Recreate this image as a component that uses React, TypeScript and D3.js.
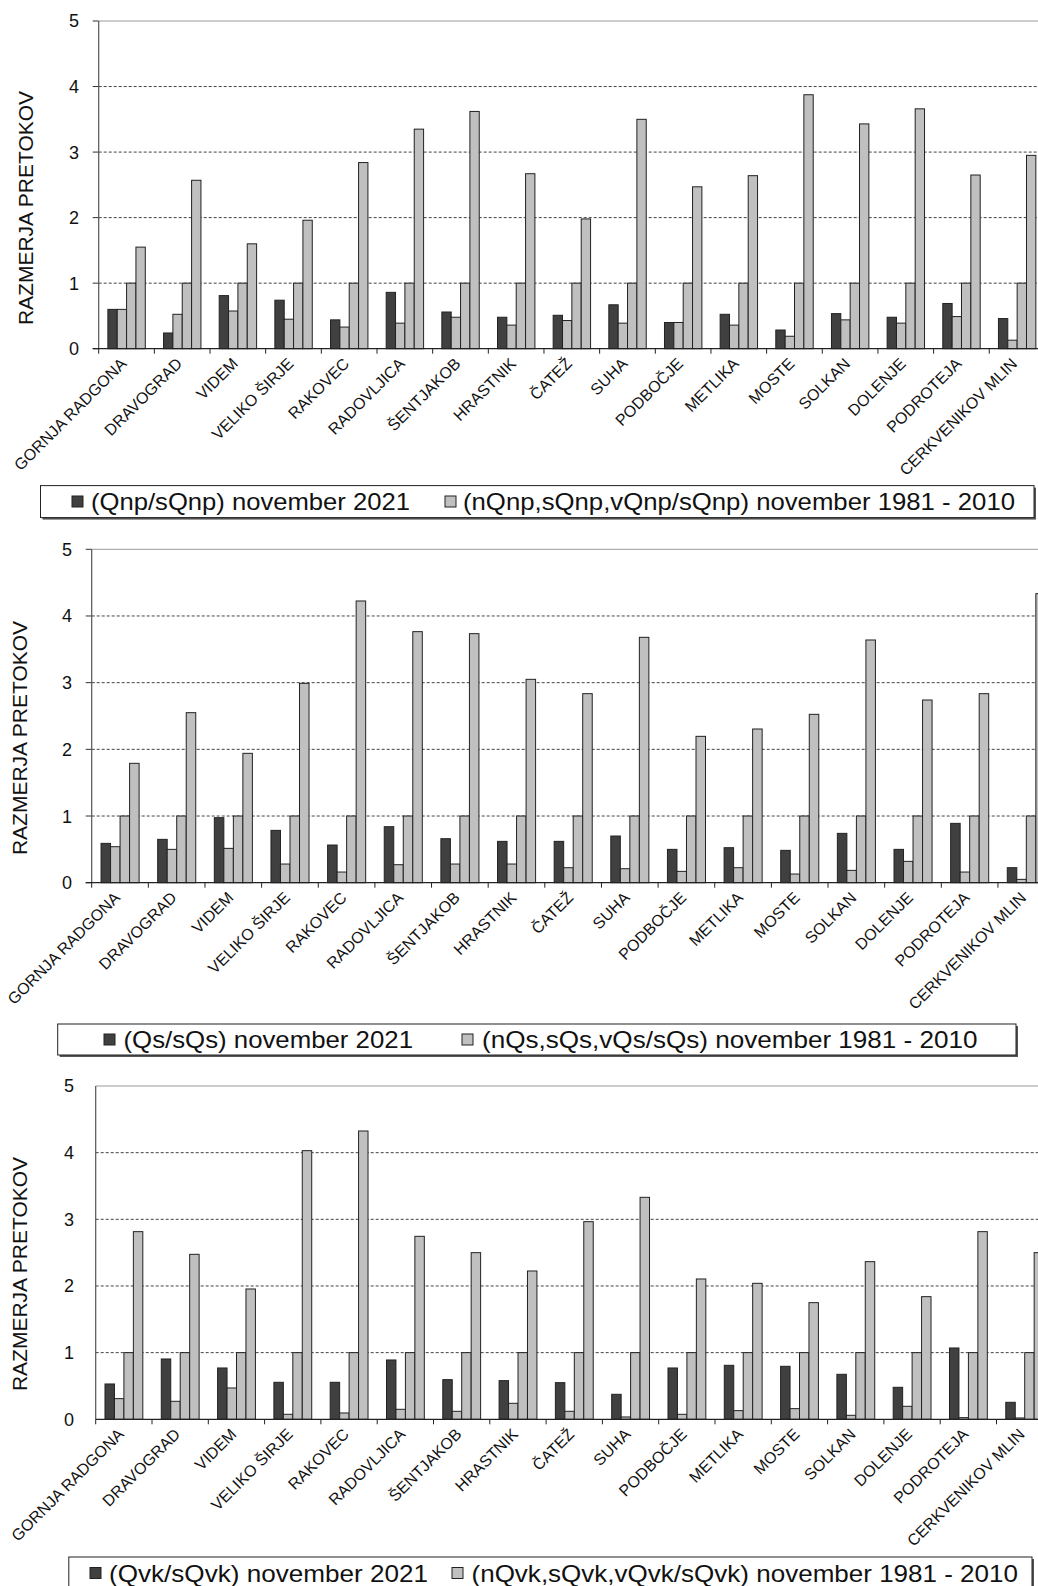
import React from "react";
import * as d3 from "d3";

const categories = [
  "GORNJA RADGONA", "DRAVOGRAD", "VIDEM", "VELIKO ŠIRJE", "RAKOVEC", "RADOVLJICA",
  "ŠENTJAKOB", "HRASTNIK", "ČATEŽ", "SUHA", "PODBOČJE", "METLIKA", "MOSTE",
  "SOLKAN", "DOLENJE", "PODROTEJA", "CERKVENIKOV MLIN",
];
const yTicks = [0, 1, 2, 3, 4, 5];
const yTitle = "RAZMERJA PRETOKOV";

// Panel 1: low flows (Qnp)
const qnp2021 = [0.60, 0.24, 0.81, 0.74, 0.44, 0.86, 0.56, 0.48, 0.51, 0.67, 0.40, 0.525, 0.285, 0.535, 0.48, 0.69, 0.46];
const nQnp = [0.60, 0.525, 0.575, 0.45, 0.33, 0.39, 0.48, 0.36, 0.43, 0.39, 0.40, 0.36, 0.19, 0.44, 0.39, 0.49, 0.13];
const sQnp = [1, 1, 1, 1, 1, 1, 1, 1, 1, 1, 1, 1, 1, 1, 1, 1, 1];
const vQnp = [1.55, 2.57, 1.60, 1.96, 2.84, 3.35, 3.62, 2.67, 1.98, 3.50, 2.47, 2.64, 3.875, 3.43, 3.66, 2.65, 2.95];
const legend1 = ["(Qnp/sQnp) november 2021", "(nQnp,sQnp,vQnp/sQnp) november 1981 - 2010"];

// Panel 2: mean flows (Qs)
const qs2021 = [0.59, 0.65, 0.975, 0.785, 0.565, 0.84, 0.66, 0.62, 0.62, 0.70, 0.50, 0.525, 0.485, 0.74, 0.50, 0.89, 0.225];
const nQs = [0.54, 0.50, 0.515, 0.28, 0.16, 0.27, 0.28, 0.28, 0.225, 0.21, 0.17, 0.225, 0.13, 0.185, 0.32, 0.16, 0.05];
const sQs = [1, 1, 1, 1, 1, 1, 1, 1, 1, 1, 1, 1, 1, 1, 1, 1, 1];
const vQs = [1.79, 2.55, 1.94, 2.99, 4.225, 3.765, 3.735, 3.05, 2.835, 3.68, 2.195, 2.305, 2.525, 3.64, 2.74, 2.835, 4.335];
const legend2 = ["(Qs/sQs) november 2021", "(nQs,sQs,vQs/sQs) november 1981 - 2010"];

// Panel 3: high flows (Qvk)
const qvk2021 = [0.53, 0.905, 0.77, 0.555, 0.555, 0.89, 0.595, 0.58, 0.55, 0.375, 0.77, 0.81, 0.795, 0.675, 0.48, 1.07, 0.255];
const nQvk = [0.31, 0.27, 0.47, 0.075, 0.095, 0.15, 0.12, 0.24, 0.12, 0.035, 0.075, 0.13, 0.16, 0.06, 0.195, 0.025, 0.02];
const sQvk = [1, 1, 1, 1, 1, 1, 1, 1, 1, 1, 1, 1, 1, 1, 1, 1, 1];
const vQvk = [2.815, 2.475, 1.955, 4.03, 4.325, 2.745, 2.50, 2.225, 2.965, 3.33, 2.105, 2.04, 1.75, 2.365, 1.84, 2.815, 2.50];
const legend3 = ["(Qvk/sQvk) november 2021", "(nQvk,sQvk,vQvk/sQvk) november 1981 - 2010"];

const seriesKeys = ["cur", "n", "s", "v"];
const FONT = "'Liberation Sans', Arial, sans-serif";
const DARK = "#404040";
const LIGHT = "#c0c0c0";

type PanelLayout = {
  x0: number; bw: number; y0: number; y5: number;
  tickLabelX: number; titleX: number; titleY: number;
  yTickMarks: boolean;
  legendBox: [number, number, number, number];
  legendMarkers: [number, number];
  legendTextX: [number, number];
  legendTextW: [number, number];
  legendY: number;
};

function Panel({ series, legend, L }: { series: number[][]; legend: string[]; L: PanelLayout }) {
  const x = d3.scaleBand<string>().domain(categories).range([L.x0, L.x0 + categories.length * L.bw]).padding(0);
  const x1 = d3.scaleBand<string>().domain(seriesKeys).range([L.bw * 0.165, L.bw * 0.837]).padding(0);
  const y = d3.scaleLinear().domain([0, 5]).range([L.y0, L.y5]);
  const xEnd = L.x0 + categories.length * L.bw;
  const [bx, by, bw, bh] = L.legendBox;
  return (
    <g>
      {yTicks.filter((t) => t > 0).map((t) => (
        <line key={"g" + t} x1={L.x0} x2={xEnd} y1={y(t)} y2={y(t)}
          stroke={t === 5 ? "#9a9a9a" : "#444"} strokeWidth={1}
          strokeDasharray={t === 5 ? undefined : "3,2"} />
      ))}
      {L.yTickMarks && yTicks.map((t) => (
        <line key={"tm" + t} x1={L.x0 - 6} x2={L.x0} y1={y(t)} y2={y(t)} stroke="#333" strokeWidth={1} />
      ))}
      {categories.map((c, i) => (
        <g key={c}>
          {seriesKeys.map((k, j) => {
            const v = series[j][i];
            return (
              <rect key={k} x={(x(c) as number) + (x1(k) as number)} y={y(v)}
                width={x1.bandwidth()} height={L.y0 - y(v)}
                fill={j === 0 ? DARK : LIGHT} stroke="#222" strokeWidth={1} />
            );
          })}
        </g>
      ))}
      <line x1={L.x0} x2={L.x0} y1={L.y5} y2={L.y0} stroke="#555" strokeWidth={1.2} />
      <line x1={L.x0 - (L.yTickMarks ? 6 : 0)} x2={xEnd} y1={L.y0} y2={L.y0} stroke="#222" strokeWidth={1.2} />
      {categories.map((c) => (
        <line key={"ct" + c} x1={x(c) as number} x2={x(c) as number}
          y1={L.y0} y2={L.y0 + 5} stroke="#222" strokeWidth={1} />
      ))}
      {yTicks.map((t) => (
        <text key={"yl" + t} x={L.tickLabelX} y={y(t)} dy="0.36em" textAnchor="end"
          fontSize={18} fontFamily={FONT} fill="#111">{t}</text>
      ))}
      <text transform={`translate(${L.titleX},${L.titleY}) rotate(-90)`} textAnchor="middle"
        fontSize={21} fontFamily={FONT} fill="#111">{yTitle}</text>
      {categories.map((c) => (
        <text key={"cl" + c}
          transform={`translate(${(x(c) as number) + L.bw / 2 + 1},${L.y0 + 16}) rotate(-45)`}
          textAnchor="end" fontSize={16} fontFamily={FONT} fill="#111">{c}</text>
      ))}
      <rect x={bx + 2} y={by + 2} width={bw} height={bh} fill="#555" />
      <rect x={bx} y={by} width={bw} height={bh} fill="#fff" stroke="#222" strokeWidth={1} />
      {legend.map((t, j) => (
        <g key={"lg" + j}>
          <rect x={L.legendMarkers[j]} y={L.legendY - 5.5} width={11} height={11}
            fill={j === 0 ? DARK : LIGHT} stroke="#222" strokeWidth={1} />
          <text x={L.legendTextX[j]} y={L.legendY} dy="0.35em" fontSize={24.5} fontFamily={FONT} fill="#111"
            textLength={L.legendTextW[j]} lengthAdjust="spacingAndGlyphs">{t}</text>
        </g>
      ))}
    </g>
  );
}

const layouts: PanelLayout[] = [
  {
    x0: 98.7, bw: 55.66, y0: 348.7, y5: 21, tickLabelX: 79, titleX: 33, titleY: 208, yTickMarks: true,
    legendBox: [40.5, 485.6, 993.5, 32], legendMarkers: [72, 445], legendTextX: [91, 463],
    legendTextW: [319, 552], legendY: 501.5,
  },
  {
    x0: 91.7, bw: 56.64, y0: 882.7, y5: 549.3, tickLabelX: 72, titleX: 27, titleY: 738, yTickMarks: true,
    legendBox: [57.7, 1024, 958.3, 31], legendMarkers: [104, 462], legendTextX: [123.5, 482],
    legendTextW: [289.5, 495.5], legendY: 1039.5,
  },
  {
    x0: 95.7, bw: 56.3, y0: 1419.3, y5: 1086, tickLabelX: 74, titleX: 27, titleY: 1274, yTickMarks: false,
    legendBox: [68.8, 1557, 963.2, 33], legendMarkers: [90, 452], legendTextX: [109, 471.5],
    legendTextW: [319, 546.5], legendY: 1573,
  },
];

export default function App() {
  return (
    <svg width={1038} height={1586} style={{ position: "absolute", left: 0, top: 0, background: "#fff" }}>
      <rect x={0} y={0} width={1038} height={1586} fill="#fff" />
      <Panel series={[qnp2021, nQnp, sQnp, vQnp]} legend={legend1} L={layouts[0]} />
      <Panel series={[qs2021, nQs, sQs, vQs]} legend={legend2} L={layouts[1]} />
      <Panel series={[qvk2021, nQvk, sQvk, vQvk]} legend={legend3} L={layouts[2]} />
    </svg>
  );
}
